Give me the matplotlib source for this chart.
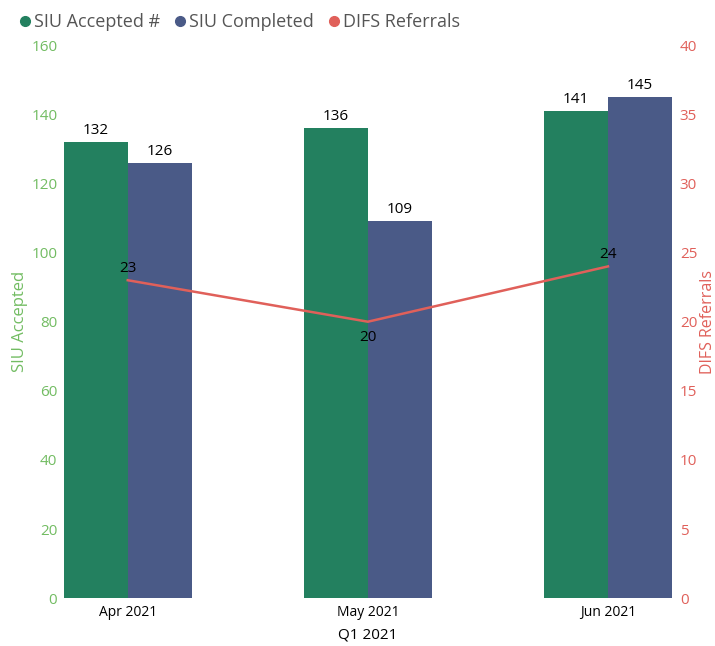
import numpy as np
import matplotlib.pyplot as plt
from matplotlib.lines import Line2D

plt.rcParams['font.family'] = ['Open Sans', 'DejaVu Sans']

months = ['Apr 2021', 'May 2021', 'Jun 2021']
siu_accepted = [132, 136, 141]
siu_completed = [126, 109, 145]
difs_referrals = [23, 20, 24]

green = '#23805F'
blue = '#4A5A87'
red = '#E0605A'
green_txt = '#72BC62'
red_txt = '#E0605A'

fig = plt.figure(figsize=(7.15, 6.46), dpi=100)
ax = fig.add_axes([0.088, 0.074, 0.853, 0.856])
ax2 = ax.twinx()

x = np.arange(len(months))
w = 0.267
b1 = ax.bar(x - w / 2, siu_accepted, w, color=green, zorder=2)
b2 = ax.bar(x + w / 2, siu_completed, w, color=blue, zorder=2)
for bars in (b1, b2):
    for r in bars:
        ax.text(r.get_x() + r.get_width() / 2, r.get_height() + 1.2, str(int(r.get_height())),
                ha='center', va='bottom', fontsize=11, color='black')

ax2.plot(x, difs_referrals, color=red, lw=1.8)
offs = [0.3, -0.6, 0.3]
for xi, v, o in zip(x, difs_referrals, offs):
    ax2.text(xi, v + o, str(v), ha='center', va='bottom' if o > 0 else 'top',
             fontsize=11, color='black')

ax.set_xlim(-0.27, 2.27)
ax.set_ylim(0, 160)
ax2.set_ylim(0, 40)
ax.set_yticks(range(0, 161, 20))
ax2.set_yticks(range(0, 41, 5))
ax.set_xticks(x)
ax.set_xticklabels(months)

for a in (ax, ax2):
    for s in a.spines.values():
        s.set_visible(False)
    a.tick_params(length=0)

ax.tick_params(axis='y', colors=green_txt, labelsize=11, pad=4)
ax.tick_params(axis='x', labelsize=10, pad=5)
ax2.tick_params(axis='y', colors=red_txt, labelsize=11, pad=5)

ax.set_ylabel('SIU Accepted', color=green_txt, fontsize=12, labelpad=2)
ax2.set_ylabel('DIFS Referrals', color=red_txt, fontsize=11.5, labelpad=2)
ax.set_xlabel('Q1 2021', fontsize=11, labelpad=5)

handles = [Line2D([], [], marker='o', ls='', color=c, markersize=7)
           for c in (green, blue, red)]
fig.legend(handles, ['SIU Accepted #', 'SIU Completed', 'DIFS Referrals'],
           loc='upper left', bbox_to_anchor=(0.0, 1.005), ncol=3, frameon=False,
           fontsize=13, handletextpad=0.0, columnspacing=0.6, labelcolor='#555555',
           handlelength=1.0)

fig.savefig('out.png', dpi=100)
